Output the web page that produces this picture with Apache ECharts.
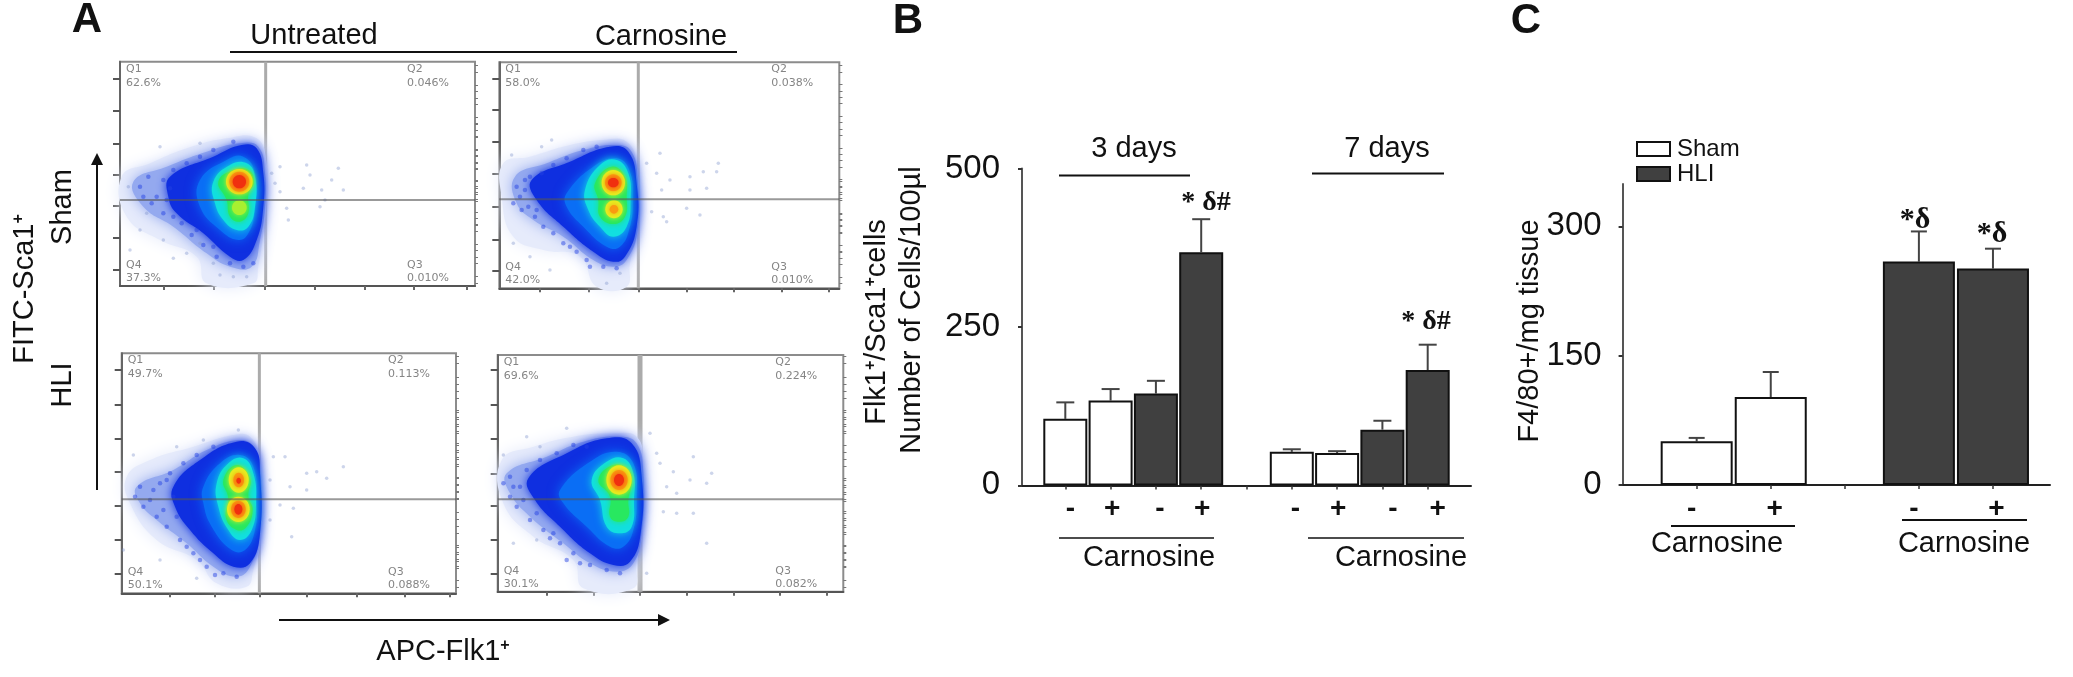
<!DOCTYPE html>
<html>
<head>
<meta charset="utf-8">
<style>
  html, body { margin: 0; padding: 0; background: #fff; }
  #chart { width: 2073px; height: 677px; filter: blur(0.6px); }
</style>
<script src="https://cdn.jsdelivr.net/npm/echarts@6/dist/echarts.min.js"></script>
</head>
<body>
<div id="chart"></div>
<script>
// panel B: Flk1+/Sca1+ cells
const bPositions = [1, 2, 3, 4, 6, 7, 8, 9];
const bSigns = ['-', '+', '-', '+', '-', '+', '-', '+'];
const bGroups = ['Sham', 'Sham', 'HLI', 'HLI', 'Sham', 'Sham', 'HLI', 'HLI'];
const bMeans = [105, 134, 145, 368, 53, 51, 88, 182];
const bUpper = [131, 152, 165, 420, 57, 54, 102, 222];
const bTicks = [250, 500];

// panel C: F4/80+
const cPositions = [1, 2, 4, 5];
const cSigns = ['-', '+', '-', '+'];
const cGroups = ['Sham', 'Sham', 'HLI', 'HLI'];
const cMeans = [50.6, 102, 259, 251];
const cUpper = [54.6, 131, 294, 274];

// panel A quadrant labels
const plotQuadrants = [
  ['62.6%', '0.046%', '37.3%', '0.010%'],
  ['58.0%', '0.038%', '42.0%', '0.010%'],
  ['49.7%', '0.113%', '50.1%', '0.088%'],
  ['69.6%', '0.224%', '30.1%', '0.082%']
];

// panel A density outlines, outermost level first
const plot1Levels = [
  [[365,530],[450,490],[560,445],[680,415],[770,415],[800,490],[800,600],[790,700],[775,800],[760,850],[620,850],[590,770],[480,720],[380,650]],
  [[400,545],[500,500],[620,455],[720,430],[775,440],[795,520],[795,620],[780,720],[755,800],[690,800],[620,760],[520,680],[430,620]],
  [[510,530],[640,470],[725,435],[770,445],[790,520],[790,620],[770,720],[730,780],[690,770],[610,700],[530,640],[505,590]],
  [[600,540],[680,480],[730,470],[765,520],[765,630],[745,700],[715,720],[660,690],[600,620]],
  [[640,545],[690,495],[740,490],[765,530],[765,620],[745,680],[710,690],[670,660],[645,610]],
  [[655,545],[700,510],[745,510],[762,545],[745,585],[745,640],[720,665],[690,650],[680,600]]
];
const plot2Levels = [
  [[100,400],[180,380],[300,345],[400,330],[470,335],[500,400],[503,600],[480,700],[470,770],[380,770],[330,680],[220,660],[130,620],[95,500]],
  [[135,440],[230,400],[340,360],[440,345],[485,365],[503,450],[503,600],[470,690],[430,710],[370,690],[280,620],[190,570],[140,520]],
  [[185,450],[300,395],[420,350],[475,365],[500,460],[500,590],[465,680],[430,695],[370,665],[280,590],[200,510]],
  [[290,490],[370,410],[440,385],[478,420],[488,510],[480,590],[450,650],[410,650],[340,590],[290,530]],
  [[345,480],[390,405],[440,390],[475,430],[482,510],[470,590],[430,620],[390,590],[355,540]],
  [[375,460],[425,410],[465,440],[470,500],[465,560],[430,582],[390,560],[385,510]]
];
const plot3Levels = [
  [[80,410],[150,360],[280,320],[400,285],[450,290],[480,360],[482,600],[460,690],[440,740],[350,730],[290,660],[170,600],[90,490]],
  [[110,440],[220,390],[320,330],[420,300],[460,320],[480,380],[480,580],[450,680],[410,710],[340,680],[260,610],[170,540],[120,490]],
  [[220,440],[300,360],[410,305],[465,325],[480,400],[480,580],[450,670],[400,680],[340,640],[270,570],[225,500]],
  [[310,440],[360,370],[420,345],[460,380],[470,480],[465,570],[435,630],[395,630],[335,560],[310,490]],
  [[350,430],[385,370],[430,355],[460,400],[468,490],[455,570],[420,600],[385,570],[355,500]],
  [[370,420],[410,375],[450,415],[445,470],[458,510],[440,560],[410,570],[378,535],[385,475]]
];
const plot4Levels = [
  [[125,390],[220,350],[340,320],[460,310],[530,320],[550,400],[548,600],[530,700],[520,775],[370,775],[340,690],[220,620],[130,520]],
  [[140,430],[260,380],[370,335],[480,320],[530,340],[550,430],[545,610],[520,700],[470,725],[390,700],[310,640],[210,560],[150,490]],
  [[205,445],[320,370],[440,325],[515,340],[545,440],[542,610],[510,695],[460,705],[390,670],[300,590],[225,510]],
  [[300,480],[390,395],[470,365],[520,400],[530,500],[520,600],[490,650],[450,650],[380,590],[310,520]],
  [[395,450],[440,395],[490,385],[520,430],[522,510],[515,590],[480,610],[440,590],[420,510]],
  [[415,450],[460,405],[505,420],[515,460],[505,510],[505,560],[478,575],[450,560],[450,500]]
];
// hot spots: centre x, centre y, radius x, radius y, level
const plot1Cores = [[718,623,22,22,'lime'],[718,545,40,38,'yellow'],[718,545,30,30,'orange'],[718,545,20,20,'red']];
const plot2Cores = [[430,458,35,38,'yellow'],[432,538,26,27,'yellow'],[430,458,25,25,'orange'],[432,538,13,13,'orange'],[430,458,16,14,'red']];
const plot3Cores = [[416,420,30,38,'yellow'],[415,508,34,38,'yellow'],[416,420,16,22,'orange'],[415,508,22,26,'orange'],[416,422,7,9,'red'],[415,508,12,16,'red']];
const plot4Cores = [[477,450,38,44,'yellow'],[477,450,26,30,'orange'],[477,450,15,18,'red']];
// stray events
const plot1Events = [[840,500],[920,495],[1015,505],[930,525],[995,540],[910,565],[965,570],[1030,570],[840,575],[975,600],[960,620],[860,625],[865,660],[815,520],[825,550],[390,750],[490,720],[520,775],[560,760],[600,730],[480,440],[600,430],[640,790],[700,830],[740,830],[660,825],[420,690],[385,560],[440,640]];
const plot2Events = [[530,400],[570,370],[560,430],[600,450],[575,480],[660,440],[700,425],[745,400],[740,425],[660,480],[710,475],[545,545],[580,560],[650,535],[690,555],[590,575],[215,350],[245,330],[125,375],[130,640],[180,680],[240,720],[410,760],[450,730]];
const plot3Events = [[520,350],[555,350],[510,420],[570,440],[620,400],[650,395],[680,415],[730,380],[620,450],[540,495],[580,505],[575,590],[510,540],[100,345],[70,630],[180,660],[290,715],[415,270],[310,300],[230,320]];
const plot4Events = [[570,310],[590,370],[600,400],[640,425],[700,380],[755,430],[740,460],[690,450],[620,470],[650,490],[610,545],[650,550],[700,550],[740,640],[320,295],[240,350],[130,375],[160,640],[230,630],[560,730],[200,320]];
// denser grains along the edge of the cloud
const plot1Grains = [[420,560],[445,530],[470,590],[490,540],[455,610],[490,640],[430,590],[500,600],[520,510],[560,490],[600,470],[640,450],[700,425],[545,670],[575,705],[610,735],[650,770],[690,790],[730,800],[520,650],[590,690],[640,740],[760,790],[510,565]];
const plot2Grains = [[140,470],[165,450],[150,500],[175,530],[130,520],[195,560],[220,590],[250,610],[280,640],[320,665],[350,690],[400,710],[440,715],[215,430],[250,405],[290,385],[340,360],[380,350],[165,480],[200,540],[300,650],[360,710],[180,440],[155,540]];
const plot3Grains = [[120,440],[150,480],[180,430],[210,400],[130,500],[170,530],[200,560],[240,600],[280,640],[320,680],[370,700],[410,710],[250,370],[290,345],[340,320],[160,450],[190,510],[220,470],[260,620],[345,705],[105,470],[230,530],[200,420],[300,660]];
const plot4Grains = [[150,440],[180,470],[150,500],[200,420],[240,390],[290,370],[340,345],[170,530],[210,570],[250,600],[300,640],[340,670],[390,705],[440,720],[480,730],[190,510],[230,550],[270,625],[130,460],[320,690],[160,470],[380,350],[280,610],[360,700]];
// axis ticks
const plot1YTicks = [235,332,430,525,617,713,810];
const plot2YTicks = [145,240,335,430,530,628,722];
const plot3YTicks = [90,195,295,395,497,600,700];
const plot4YTicks = [120,225,325,430,528,628,730];
const plot1XTicks = [490,640,795,945,1095,1240,1400];
const plot2XTicks = [210,355,505,650,790,935,1075];
const plot3XTicks = [210,345,478,620,770,915,1050];
const plot4XTicks = [260,400,540,680,820,960,1100];

// frames: pixel box on the page, and the axis range that box shows
const plots = [
  { box: [120, 61.7, 355, 224.3], xr: [360, 1425], yr: [185, 858], gate: [797, 600], gateW: 3, levels: plot1Levels, cores: plot1Cores, events: plot1Events, grains: plot1Grains, xt: plot1XTicks, yt: plot1YTicks },
  { box: [499.3, 62.3, 340, 226], xr: [88, 1108], yr: [97, 775], gate: [505, 508], gateW: 3, levels: plot2Levels, cores: plot2Cores, events: plot2Events, grains: plot2Grains, xt: plot2XTicks, yt: plot2YTicks },
  { box: [121.7, 353.3, 334.3, 240], xr: [65, 1068], yr: [40, 760], gate: [478, 478], gateW: 3, levels: plot3Levels, cores: plot3Cores, events: plot3Events, grains: plot3Grains, xt: plot3XTicks, yt: plot3YTicks },
  { box: [497.7, 355, 345.6, 236.7], xr: [113, 1150], yr: [75, 785], gate: [540, 508], gateW: 5, levels: plot4Levels, cores: plot4Cores, events: plot4Events, grains: plot4Grains, xt: plot4XTicks, yt: plot4YTicks }
];

const levelColors = ['#e6ebfb', '#94a9ef', '#0f2fe0', '#0a6ef5', '#12dfe0', '#28e860'];
const levelBlur = [16, 14, 10, 12, 8, 6];
const coreColors = { lime: '#a8f030', yellow: '#e6ee20', orange: '#fa9a10', red: '#f0300f' };
const darkBar = '#404040';
const sans = '"Liberation Sans", Arial, sans-serif';
const serif = '"Liberation Serif", serif';

const grids = [], xAxes = [], yAxes = [], series = [];

function minorTicks(major, step) {
  const out = [];
  major.forEach(v => {
    for (let k = 1; k < 5; k++) out.push(v + k * step / 5);
    for (let k = 1; k < 5; k++) out.push(v - k * step / 5);
  });
  return out;
}

// panel A
plots.forEach((p, i) => {
  grids.push({ left: p.box[0], top: p.box[1], width: p.box[2], height: p.box[3], show: true, borderColor: '#8c8c8c', borderWidth: 2, backgroundColor: '#fff' });
  xAxes.push({
    type: 'value', gridIndex: i, min: p.xr[0], max: p.xr[1], splitLine: { show: false },
    axisLabel: { show: false }, axisLine: { onZero: false, lineStyle: { color: '#555', width: 2 } },
    axisTick: { customValues: p.xt, length: 4, lineStyle: { color: '#666', width: 2 } }
  });
  yAxes.push({
    type: 'value', gridIndex: i, min: p.yr[0], max: p.yr[1], inverse: true, splitLine: { show: false },
    axisLabel: { show: false }, axisLine: { onZero: false, lineStyle: { color: '#666', width: 2 } },
    axisTick: { customValues: p.yt, length: 7, lineStyle: { color: '#555', width: 2 } }
  });

  const common = { type: 'custom', xAxisIndex: i, yAxisIndex: i, silent: true };
  // vertical gate under the cloud
  series.push(Object.assign({}, common, {
    z: 1, data: [p.gate],
    renderItem: (params, api) => {
      const a = api.coord([p.gate[0], p.yr[0]]), b = api.coord([p.gate[0], p.yr[1]]);
      return { type: 'line', shape: { x1: a[0], y1: a[1], x2: b[0], y2: b[1] }, style: { stroke: '#ababab', lineWidth: p.gateW } };
    }
  }));
  // density levels
  series.push(Object.assign({}, common, {
    z: 2, data: p.levels.map(l => l[0]),
    renderItem: (params, api) => {
      const pts = p.levels[params.dataIndex].map(v => api.coord(v));
      const c = levelColors[params.dataIndex];
      return { type: 'polygon', shape: { points: pts, smooth: 0.45 }, style: { fill: c, shadowColor: c, shadowBlur: levelBlur[params.dataIndex] } };
    }
  }));
  series.push(Object.assign({}, common, {
    z: 4, data: p.cores.map(c => [c[0], c[1]]),
    renderItem: (params, api) => {
      const c = p.cores[params.dataIndex];
      const o = api.coord([c[0], c[1]]), e = api.coord([c[0] + c[2], c[1] + c[3]]);
      const col = coreColors[c[4]];
      return { type: 'ellipse', shape: { cx: o[0], cy: o[1], rx: e[0] - o[0], ry: e[1] - o[1] }, style: { fill: col, shadowColor: col, shadowBlur: 5 } };
    }
  }));
  // stray events and edge grains
  series.push({
    type: 'scatter', xAxisIndex: i, yAxisIndex: i, silent: true, z: 3, symbolSize: 3.5,
    itemStyle: { color: 'rgba(130,150,205,0.5)' }, data: p.events
  });
  series.push({
    type: 'scatter', xAxisIndex: i, yAxisIndex: i, silent: true, z: 3, symbolSize: 4.5,
    itemStyle: { color: 'rgba(35,65,225,0.6)' }, data: p.grains
  });
  // horizontal gate over the cloud
  series.push(Object.assign({}, common, {
    z: 5, data: [p.gate],
    renderItem: (params, api) => {
      const a = api.coord([p.xr[0], p.gate[1]]), b = api.coord([p.xr[1], p.gate[1]]);
      return { type: 'line', shape: { x1: a[0], y1: a[1], x2: b[0], y2: b[1] }, style: { stroke: 'rgba(85,85,85,0.6)', lineWidth: 2 } };
    }
  }));
});

// minor ticks on the flow plots, on a second axis over the same grid
plots.forEach((p, i) => {
  const step = p.yt[1] - p.yt[0];
  yAxes.push({
    type: 'value', gridIndex: i, min: p.yr[0], max: p.yr[1], inverse: true, splitLine: { show: false },
    axisLabel: { show: false }, axisLine: { show: false },
    axisTick: { customValues: minorTicks(p.yt, step).filter(v => v > p.yr[0] && v < p.yr[1]), length: 3, lineStyle: { color: '#777', width: 1 } }
  });
});

// bar panels
function addBarPanel(gridIdx, positions, signs, groups, means, upper, barWidth, capHalf, signDx) {
  ['Sham', 'HLI'].forEach(name => {
    const data = [];
    positions.forEach((x, k) => { if (groups[k] === name) data.push([x, means[k]]); });
    series.push({
      name: name, type: 'bar', xAxisIndex: gridIdx, yAxisIndex: gridIdx, barWidth: barWidth, barGap: '-100%',
      silent: true, z: 3, data: data,
      itemStyle: name === 'Sham'
        ? { color: '#fff', borderColor: '#111', borderWidth: 2 }
        : { color: darkBar, borderColor: '#111', borderWidth: 2 }
    });
  });
  // error bars, upper side only
  series.push({
    type: 'custom', xAxisIndex: gridIdx, yAxisIndex: gridIdx, silent: true, z: 2,
    data: positions.map((x, k) => [x, means[k], upper[k]]),
    renderItem: (params, api) => {
      const a = api.coord([api.value(0), api.value(1)]), b = api.coord([api.value(0), api.value(2)]);
      const st = { stroke: '#444', lineWidth: 2 };
      return { type: 'group', children: [
        { type: 'line', shape: { x1: a[0], y1: a[1], x2: b[0], y2: b[1] }, style: st },
        { type: 'line', shape: { x1: b[0] - capHalf, y1: b[1], x2: b[0] + capHalf, y2: b[1] }, style: st }
      ] };
    }
  });
  // the -/+ row under the axis
  series.push({
    type: 'custom', xAxisIndex: gridIdx, yAxisIndex: gridIdx, silent: true, z: 4,
    data: positions.map(x => [x, 0]),
    renderItem: (params, api) => {
      const a = api.coord([api.value(0), 0]);
      return { type: 'text', x: a[0] + signDx[params.dataIndex], y: a[1] + 24, style: {
        text: signs[params.dataIndex], fill: '#111', align: 'center', verticalAlign: 'middle', font: 'bold 28px ' + sans } };
    }
  });
}

function barAxes(gridIdx, box, xr, xticks, yMax, yticks, margin) {
  grids[gridIdx] = { left: box[0], top: box[1], width: box[2], height: box[3] };
  xAxes[gridIdx] = {
    type: 'value', gridIndex: gridIdx, min: xr[0], max: xr[1], splitLine: { show: false },
    axisLabel: { show: false }, axisLine: { onZero: false, lineStyle: { color: '#222', width: 2 } },
    axisTick: { customValues: xticks, length: 4, lineStyle: { color: '#333', width: 1.5 } }
  };
  yAxes.push({
    type: 'value', gridIndex: gridIdx, min: 0, max: yMax, splitLine: { show: false },
    axisLine: { onZero: false, lineStyle: { color: '#555', width: 2 } },
    axisTick: { customValues: yticks, length: 4, lineStyle: { color: '#333', width: 2 } },
    axisLabel: { customValues: yticks, fontFamily: sans, fontSize: 33, color: '#111', margin: margin }
  });
}

// yAxes must keep grid order for the bar panels, so they go after the minor axes
const bY = yAxes.length;
barAxes(4, [1022, 168.5, 449, 316.9], [0.044, 9.956], [1, 2, 3, 4, 5, 6, 7, 8, 9], 500, [0].concat(bTicks), 22);
const cY = yAxes.length;
barAxes(5, [1622.6, 184, 427.4, 301], [0, 5.77], [1, 2, 3, 4, 5], 349, [0, 150, 300], 21);

const seriesBefore = series.length;
addBarPanel(4, bPositions, bSigns, bGroups, bMeans, bUpper, 44, 9, [5, 1.6, 4, 1, 3.7, 1, 10.6, 10]);
addBarPanel(5, cPositions, cSigns, cGroups, cMeans, cUpper, 72, 8, [-5, 4, -5, 3.5]);
series.slice(seriesBefore).forEach(s => { s.yAxisIndex = s.xAxisIndex === 4 ? bY : cY; });

// text and rules around the plots
function txt(x, y, text, size, extra) {
  return Object.assign({
    type: 'text', x: x, y: y,
    style: Object.assign({ text: text, fill: '#111', align: 'center', verticalAlign: 'middle', font: size + 'px ' + sans }, (extra && extra.style) || {})
  }, extra && extra.rotation ? { rotation: extra.rotation } : {});
}
function rule(x1, y, x2, w) {
  return { type: 'line', shape: { x1: x1, y1: y, x2: x2, y2: y }, style: { stroke: '#111', lineWidth: w || 2 } };
}
const up = Math.PI / 2;
function supText(x, y, parts, size, rotate) {
  const rich = { s: { fontSize: Math.round(size * 0.55), fontWeight: 'bold', fontFamily: sans, fill: '#111', padding: [0, 0, Math.round(size * 0.4), 0] }, n: { fontSize: size, fontFamily: sans, fill: '#111' } };
  return {
    type: 'text', x: x, y: y, rotation: rotate ? up : 0,
    style: { text: parts, rich: rich, align: 'center', verticalAlign: 'middle' }
  };
}

const graphics = [
  txt(87, 20, 'A', 42, { style: { font: 'bold 42px ' + sans } }),
  txt(908, 21, 'B', 42, { style: { font: 'bold 42px ' + sans } }),
  txt(1526, 21, 'C', 42, { style: { font: 'bold 42px ' + sans } }),
  txt(314, 35.5, 'Untreated', 29),
  txt(661, 36.5, 'Carnosine', 29),
  rule(230, 52, 737),
  txt(63, 207, 'Sham', 29, { rotation: up }),
  txt(63, 385, 'HLI', 29, { rotation: up }),
  supText(25, 289, '{n|FITC-Sca1}{s|+}', 29, true),
  { type: 'line', shape: { x1: 97, y1: 160, x2: 97, y2: 490 }, style: { stroke: '#111', lineWidth: 2 } },
  { type: 'polygon', shape: { points: [[97, 153], [91, 165], [103, 165]] }, style: { fill: '#111' } },
  { type: 'line', shape: { x1: 279, y1: 620, x2: 660, y2: 620 }, style: { stroke: '#111', lineWidth: 2 } },
  { type: 'polygon', shape: { points: [[670, 620], [658, 614], [658, 626]] }, style: { fill: '#111' } },
  supText(443, 652, '{n|APC-Flk1}{s|+}', 29, false),

  supText(877, 322, '{n|Flk1}{s|+}{n|/Sca1}{s|+}{n|cells}', 29, true),
  txt(912, 310, 'Number of Cells/100µl', 29, { rotation: up }),
  txt(1134, 149, '3 days', 29),
  rule(1059, 175.5, 1190),
  txt(1387, 149, '7 days', 29),
  rule(1312, 173.5, 1444),
  txt(1206, 203, '* δ#', 28, { style: { font: 'bold 28px ' + serif } }),
  txt(1426, 322, '* δ#', 28, { style: { font: 'bold 28px ' + serif } }),
  rule(1059, 538, 1214, 1.5),
  rule(1308, 538, 1464, 1.5),
  txt(1149, 558, 'Carnosine', 29),
  txt(1401, 558, 'Carnosine', 29),

  txt(1530, 331, 'F4/80+/mg tissue', 29, { rotation: up }),
  txt(1915, 220, '*δ', 30, { style: { font: 'bold 30px ' + serif } }),
  txt(1992, 234.5, '*δ', 30, { style: { font: 'bold 30px ' + serif } }),
  rule(1671, 526, 1795),
  rule(1902, 520, 2027),
  txt(1717, 544, 'Carnosine', 29),
  txt(1964, 544, 'Carnosine', 29)
];

// quadrant labels inside each flow plot
plots.forEach((p, i) => {
  const [l, t, w, h] = p.box;
  const small = { style: { fill: '#858585', align: 'left', font: '11px "DejaVu Sans"' } };
  const q = plotQuadrants[i];
  graphics.push(
    txt(l + 6, t + 7, 'Q1', 11, small), txt(l + 6, t + 21, q[0], 11, small),
    txt(l + w - 68, t + 7, 'Q2', 11, small), txt(l + w - 68, t + 21, q[1], 11, small),
    txt(l + 6, t + h - 21, 'Q4', 11, small), txt(l + 6, t + h - 8, q[2], 11, small),
    txt(l + w - 68, t + h - 21, 'Q3', 11, small), txt(l + w - 68, t + h - 8, q[3], 11, small)
  );
});

const chart = echarts.init(document.getElementById('chart'), null, { renderer: 'canvas' });
chart.setOption({
  animation: false,
  backgroundColor: '#fff',
  legend: {
    data: ['Sham', 'HLI'], orient: 'vertical', left: 1631, top: 132, icon: 'rect', itemWidth: 33, itemHeight: 14, itemGap: 1,
    selectedMode: false, textStyle: { fontFamily: sans, fontSize: 24, color: '#111', padding: [0, 0, 0, 2] }
  },
  grid: grids,
  xAxis: xAxes,
  yAxis: yAxes,
  series: series,
  graphic: { elements: graphics }
});
</script>
</body>
</html>
